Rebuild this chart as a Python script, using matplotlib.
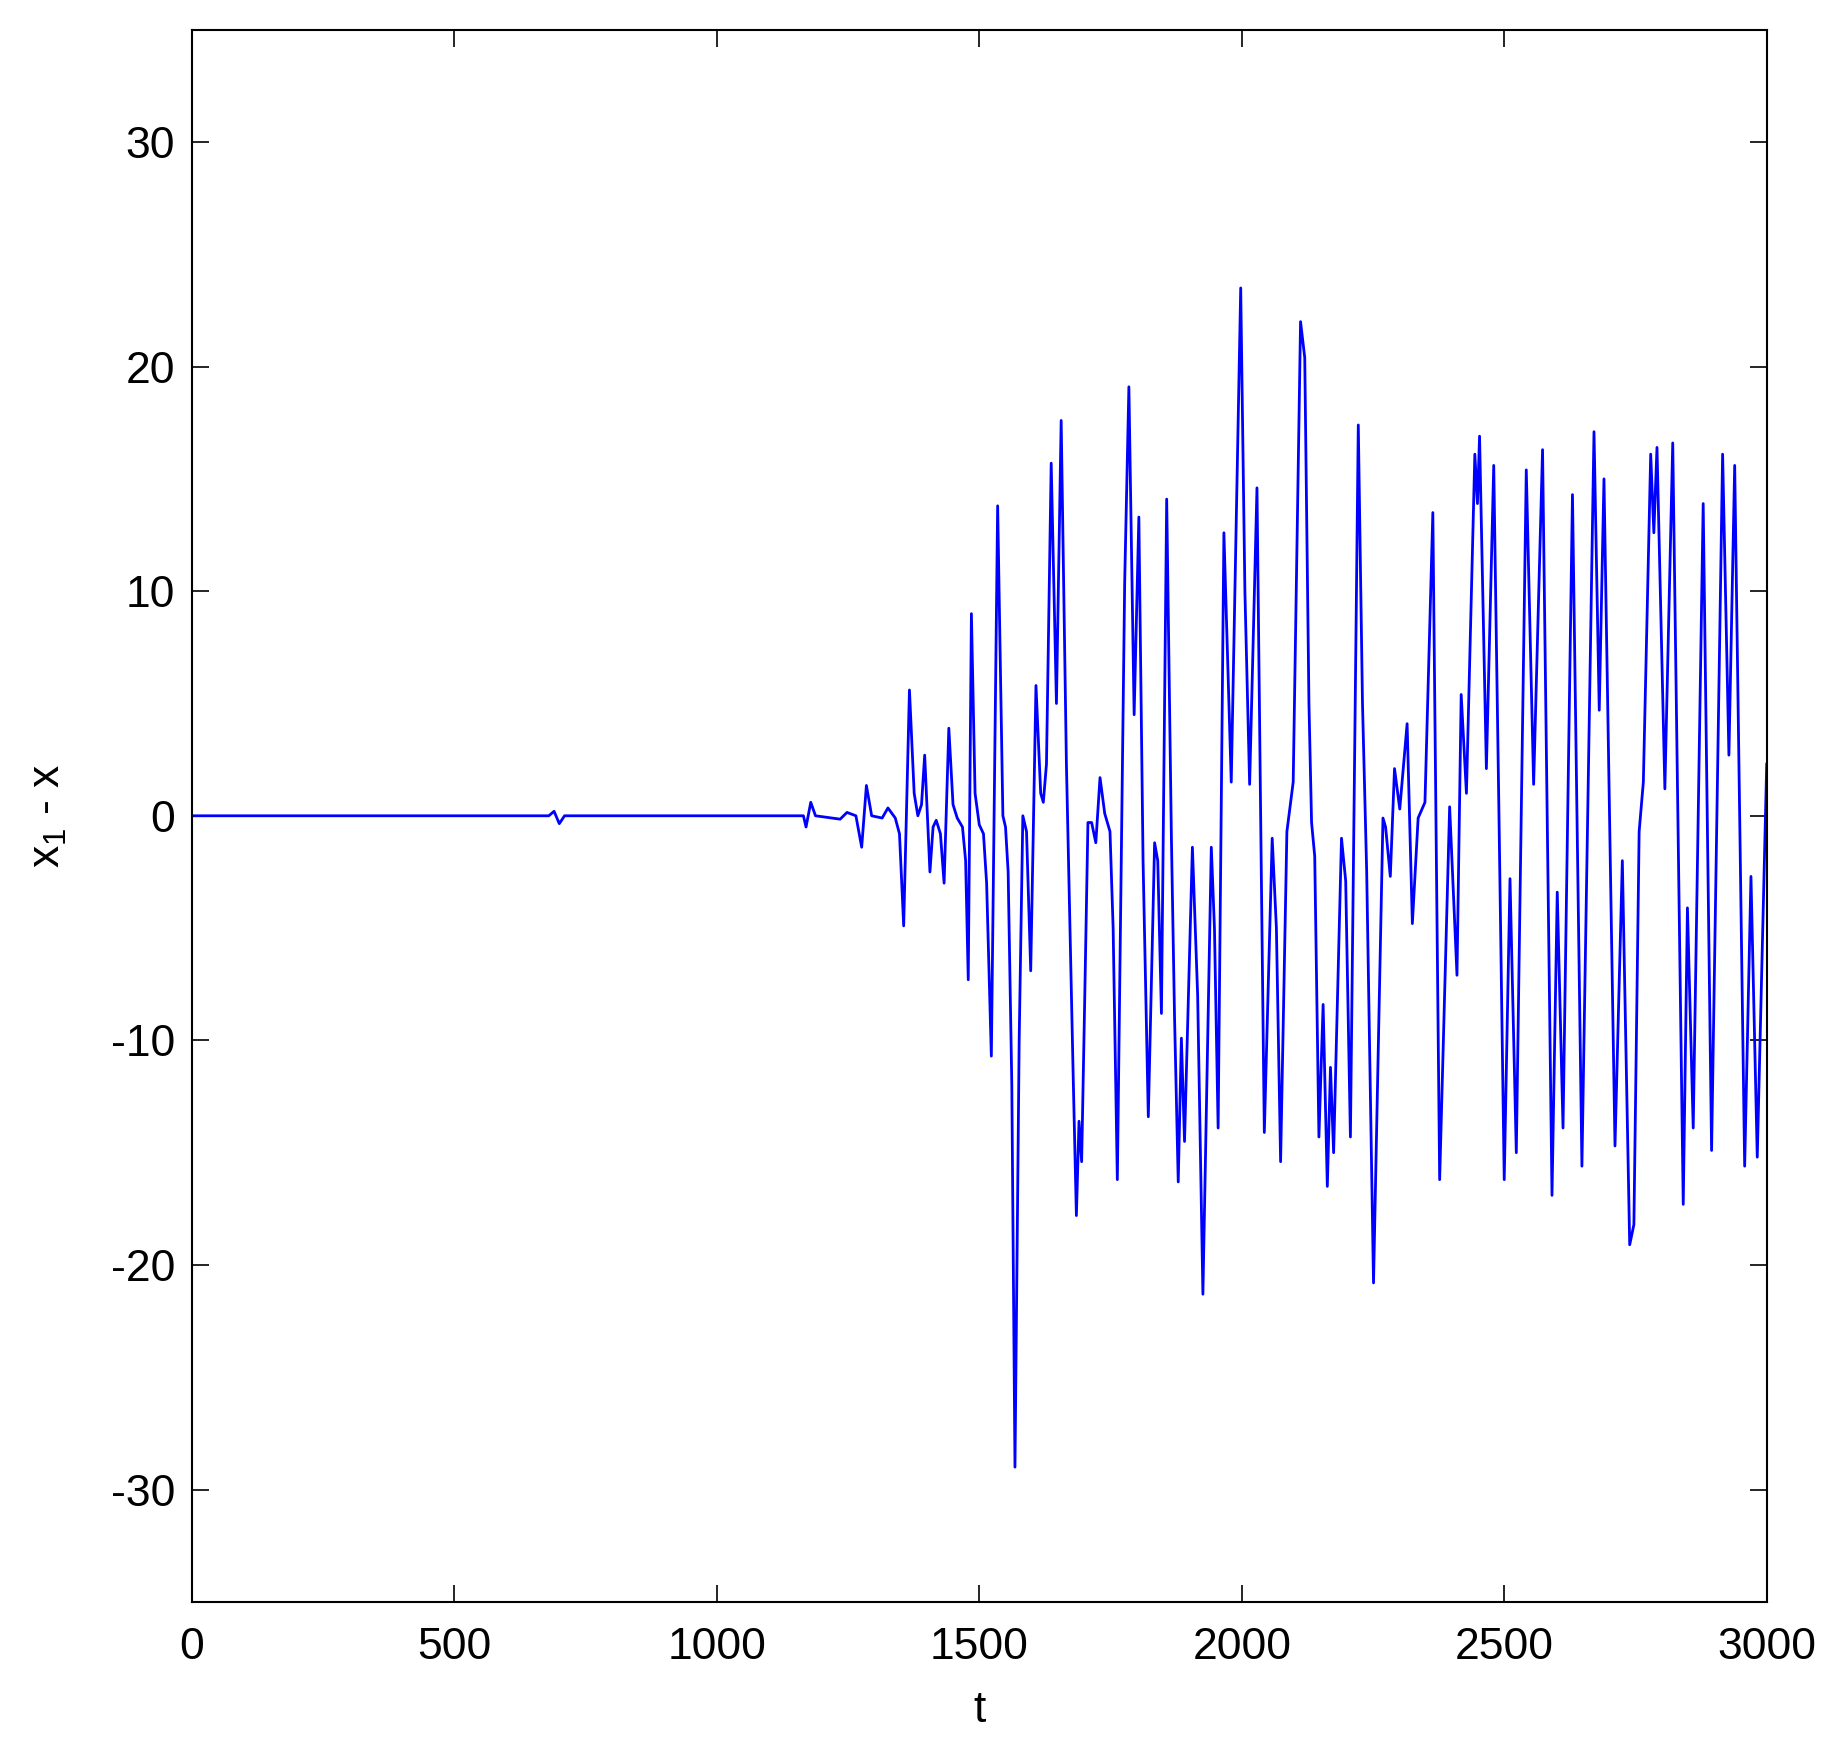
import matplotlib
matplotlib.use('Agg')
import matplotlib.pyplot as plt
import numpy as np

# 값은 그림에서 읽은 근사치 (t, x1 - x)
t = [0, 680, 690, 700, 710, 1165, 1170, 1179, 1188,
     1235, 1248, 1265, 1276, 1285, 1295, 1315, 1326, 1340, 1348, 1356, 1367,
     1376, 1383, 1390, 1396, 1406, 1412, 1418, 1426, 1433, 1442, 1450, 1458,
     1468, 1474, 1479, 1485, 1492, 1500, 1508, 1514, 1523, 1535, 1545, 1550,
     1555, 1562, 1568, 1576, 1583, 1590, 1598, 1608, 1617, 1622, 1628, 1637,
     1647, 1656, 1666, 1679, 1685, 1690, 1695, 1701, 1707, 1714, 1722, 1730,
     1739, 1749, 1755, 1763, 1777, 1785, 1795, 1804, 1812, 1822, 1834, 1840,
     1847, 1857, 1866, 1872, 1879, 1885, 1891, 1906, 1916, 1926, 1942, 1948,
     1955, 1966, 1980, 1998, 2006, 2015, 2029, 2036, 2043, 2058, 2066, 2074,
     2086, 2098, 2112, 2120, 2128, 2133, 2139, 2147, 2155, 2163, 2169, 2175,
     2190, 2198, 2207, 2222, 2230, 2238, 2251, 2269, 2274, 2283, 2291, 2301,
     2315, 2325, 2336, 2349, 2364, 2377, 2396, 2410, 2418, 2428, 2444, 2449,
     2453, 2466, 2480, 2490, 2500, 2511, 2523, 2542, 2556, 2573, 2591, 2601,
     2612, 2630, 2648, 2671, 2681, 2690, 2711, 2725, 2739, 2747, 2757, 2765,
     2779, 2785, 2791, 2806, 2821, 2841, 2849, 2860, 2879, 2895, 2916, 2928,
     2939, 2958, 2970, 2982, 3000]
dx = [0, 0, 0.2, -0.35, 0, 0, -0.5, 0.6, 0,
      -0.15, 0.15, 0, -1.4, 1.35, 0, -0.1, 0.35, -0.1, -0.8, -4.9, 5.6,
      1.0, 0.0, 0.5, 2.7, -2.5, -0.5, -0.2, -0.8, -3.0, 3.9, 0.5, -0.1,
      -0.5, -2.0, -7.3, 9.0, 1.0, -0.4, -0.8, -3.0, -10.7, 13.8, 0.0, -0.5,
      -2.5, -12.0, -29.0, -10.0, 0.0, -0.7, -6.9, 5.8, 1.0, 0.6, 2.3, 15.7,
      5.0, 17.6, 2.3, -11.7, -17.8, -13.6, -15.4, -8.0, -0.3, -0.3, -1.2, 1.7,
      0.1, -0.7, -5.0, -16.2, 10.4, 19.1, 4.5, 13.3, -2.0, -13.4, -1.2, -2.0,
      -8.8, 14.1, -1.0, -9.0, -16.3, -9.9, -14.5, -1.4, -8.0, -21.3, -1.4, -5.0,
      -13.9, 12.6, 1.5, 23.5, 10.0, 1.4, 14.6, 0.0, -14.1, -1.0, -5.0, -15.4,
      -0.7, 1.5, 22.0, 20.4, 5.0, -0.3, -1.8, -14.3, -8.4, -16.5, -11.2, -15.0,
      -1.0, -2.9, -14.3, 17.4, 5.0, -2.5, -20.8, -0.1, -0.5, -2.7, 2.1, 0.3,
      4.1, -4.8, -0.1, 0.6, 13.5, -16.2, 0.4, -7.1, 5.4, 1.0, 16.1, 13.9,
      16.9, 2.1, 15.6, 0.0, -16.2, -2.8, -15.0, 15.4, 1.4, 16.3, -16.9, -3.4,
      -13.9, 14.3, -15.6, 17.1, 4.7, 15.0, -14.7, -2.0, -19.1, -18.2, -0.7, 1.5,
      16.1, 12.6, 16.4, 1.2, 16.6, -17.3, -4.1, -13.9, 13.9, -14.9, 16.1, 2.7,
      15.6, -15.6, -2.7, -15.2, 2.3]

x_ticks = [0, 500, 1000, 1500, 2000, 2500, 3000]
y_ticks = [-30, -20, -10, 0, 10, 20, 30]

plt.rcParams['font.family'] = ['Liberation Sans', 'DejaVu Sans']
plt.rcParams['mathtext.fontset'] = 'custom'
plt.rcParams['mathtext.rm'] = 'Liberation Sans'
plt.rcParams['mathtext.it'] = 'Liberation Sans'
plt.rcParams['axes.unicode_minus'] = False

fig = plt.figure(figsize=(18.27, 17.45), dpi=100)
ax = fig.add_axes([0.105, 0.082, 0.862, 0.901])

ax.plot(t, dx, color='#0000ff', linewidth=2.0)

ax.set_xlim(0, 3000)
ax.set_ylim(-35, 35)
ax.set_xticks(x_ticks)
ax.set_yticks(y_ticks)
ax.tick_params(direction='in', length=12, width=1.2, labelsize=32,
               top=True, right=True)
ax.tick_params(axis='x', pad=18)
ax.tick_params(axis='y', pad=12)
for s in ax.spines.values():
    s.set_linewidth(1.5)

ax.set_xlabel('t', fontsize=32, labelpad=16)
ax.set_ylabel(r'x$_\mathregular{1}$ - x', fontsize=32, labelpad=30)

plt.savefig('out.png', dpi=100)
plt.close()
